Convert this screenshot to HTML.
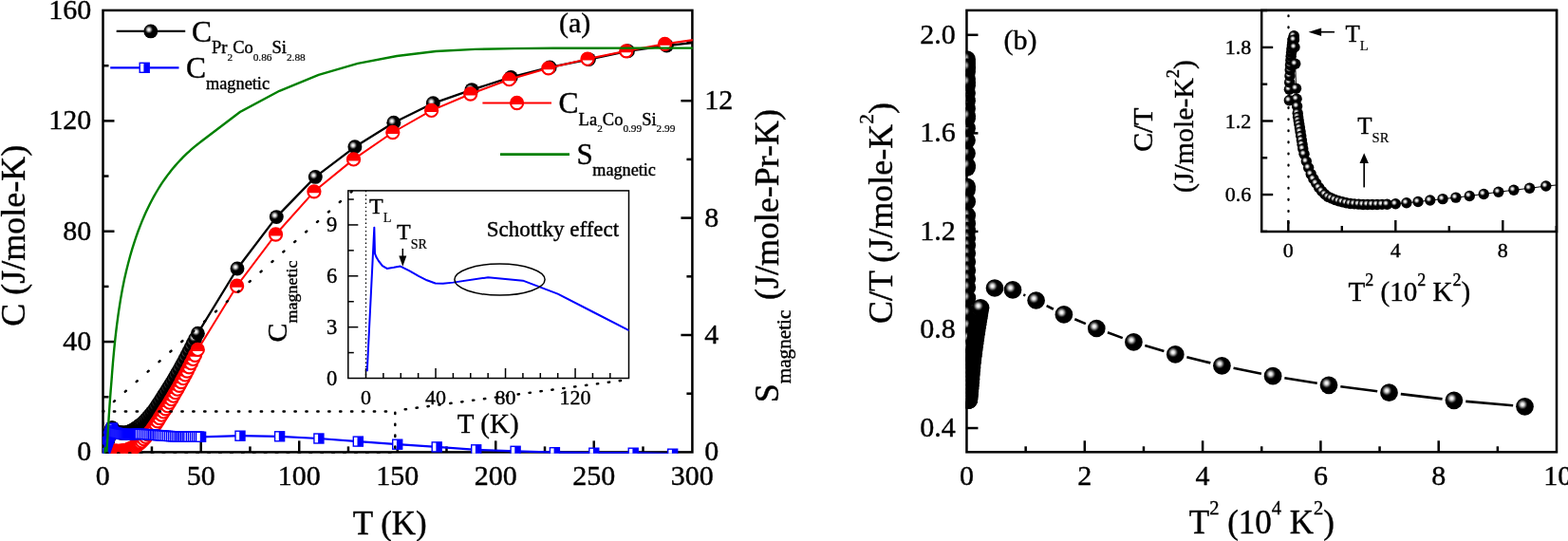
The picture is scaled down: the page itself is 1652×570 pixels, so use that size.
<!DOCTYPE html>
<html><head><meta charset="utf-8"><title>Heat capacity</title>
<style>
html,body{margin:0;padding:0;background:#fff;}
body{width:1652px;height:570px;overflow:hidden;}
svg{display:block;font-family:"Liberation Serif","Times New Roman",serif;}
text{fill:#000;stroke:#000;stroke-width:0.4px;stroke-linejoin:round;}
</style></head><body>
<svg width="1652" height="570" viewBox="0 0 1652 570">
<defs>
<radialGradient id="gb" cx="0.37" cy="0.385" r="0.29" fx="0.37" fy="0.385"><stop offset="0" stop-color="#fff"/><stop offset="0.28" stop-color="#e4e4e4"/><stop offset="0.55" stop-color="#8a8a8a"/><stop offset="0.8" stop-color="#2a2a2a"/><stop offset="1" stop-color="#000"/></radialGradient>
<g id="rm"><circle r="6.6" fill="#fff" stroke="#f00" stroke-width="2.1"/><path d="M-6.6,1.5 L-6.6,0 A6.6,6.6 0 0 1 6.6,0 L6.6,1.5 Z" fill="#f00"/></g>
<g id="bm"><rect x="-5" y="-5" width="10" height="10" fill="#fff" stroke="#00f" stroke-width="1.4"/><rect x="-0.8" y="-5" width="5.8" height="10" fill="#00f"/></g>
<clipPath id="ca"><rect x="108.1" y="10.5" width="621.7" height="467.2"/></clipPath>
<clipPath id="cb"><rect x="1017.5" y="10.5" width="623" height="466.6"/></clipPath>
<clipPath id="cia"><rect x="366.8" y="200.9" width="295.7" height="197.6"/></clipPath>
<clipPath id="cib"><rect x="1329.2" y="11" width="310.8" height="233"/></clipPath>
</defs>
<rect width="1652" height="570" fill="#fff"/>

<rect x="108.5" y="10.9" width="620.9" height="465.5" fill="none" stroke="#000" stroke-width="2.5"/>
<line x1="159.95" y1="476.4" x2="159.95" y2="470.4" stroke="#000" stroke-width="2.5" />
<line x1="211.71" y1="476.4" x2="211.71" y2="464.4" stroke="#000" stroke-width="2.5" />
<line x1="263.46" y1="476.4" x2="263.46" y2="470.4" stroke="#000" stroke-width="2.5" />
<line x1="315.22" y1="476.4" x2="315.22" y2="464.4" stroke="#000" stroke-width="2.5" />
<line x1="366.97" y1="476.4" x2="366.97" y2="470.4" stroke="#000" stroke-width="2.5" />
<line x1="418.73" y1="476.4" x2="418.73" y2="464.4" stroke="#000" stroke-width="2.5" />
<line x1="470.48" y1="476.4" x2="470.48" y2="470.4" stroke="#000" stroke-width="2.5" />
<line x1="522.24" y1="476.4" x2="522.24" y2="464.4" stroke="#000" stroke-width="2.5" />
<line x1="574" y1="476.4" x2="574" y2="470.4" stroke="#000" stroke-width="2.5" />
<line x1="625.75" y1="476.4" x2="625.75" y2="464.4" stroke="#000" stroke-width="2.5" />
<line x1="677.5" y1="476.4" x2="677.5" y2="470.4" stroke="#000" stroke-width="2.5" />
<text transform="translate(108.2,511.2) scale(1,1.0)" font-size="30" text-anchor="middle" >0</text>
<text transform="translate(211.71,511.2) scale(1,1.0)" font-size="30" text-anchor="middle" >50</text>
<text transform="translate(315.22,511.2) scale(1,1.0)" font-size="30" text-anchor="middle" >100</text>
<text transform="translate(418.73,511.2) scale(1,1.0)" font-size="30" text-anchor="middle" >150</text>
<text transform="translate(522.24,511.2) scale(1,1.0)" font-size="30" text-anchor="middle" >200</text>
<text transform="translate(625.75,511.2) scale(1,1.0)" font-size="30" text-anchor="middle" >250</text>
<text transform="translate(729.26,511.2) scale(1,1.0)" font-size="30" text-anchor="middle" >300</text>
<line x1="108.5" y1="418.23" x2="114.5" y2="418.23" stroke="#000" stroke-width="2.5" />
<line x1="108.5" y1="360.06" x2="120.5" y2="360.06" stroke="#000" stroke-width="2.5" />
<line x1="108.5" y1="301.89" x2="114.5" y2="301.89" stroke="#000" stroke-width="2.5" />
<line x1="108.5" y1="243.72" x2="120.5" y2="243.72" stroke="#000" stroke-width="2.5" />
<line x1="108.5" y1="185.55" x2="114.5" y2="185.55" stroke="#000" stroke-width="2.5" />
<line x1="108.5" y1="127.38" x2="120.5" y2="127.38" stroke="#000" stroke-width="2.5" />
<line x1="108.5" y1="69.21" x2="114.5" y2="69.21" stroke="#000" stroke-width="2.5" />
<text transform="translate(96.3,485.3) scale(1,1.0)" font-size="30" text-anchor="end" >0</text>
<text transform="translate(96.3,368.96) scale(1,1.0)" font-size="30" text-anchor="end" >40</text>
<text transform="translate(96.3,252.62) scale(1,1.0)" font-size="30" text-anchor="end" >80</text>
<text transform="translate(96.3,136.28) scale(1,1.0)" font-size="30" text-anchor="end" >120</text>
<text transform="translate(96.3,19.94) scale(1,1.0)" font-size="30" text-anchor="end" >160</text>
<line x1="729.4" y1="414.7" x2="723.4" y2="414.7" stroke="#000" stroke-width="2.5" />
<line x1="729.4" y1="353" x2="717.4" y2="353" stroke="#000" stroke-width="2.5" />
<line x1="729.4" y1="291.3" x2="723.4" y2="291.3" stroke="#000" stroke-width="2.5" />
<line x1="729.4" y1="229.6" x2="717.4" y2="229.6" stroke="#000" stroke-width="2.5" />
<line x1="729.4" y1="167.9" x2="723.4" y2="167.9" stroke="#000" stroke-width="2.5" />
<line x1="729.4" y1="106.2" x2="717.4" y2="106.2" stroke="#000" stroke-width="2.5" />
<line x1="729.4" y1="44.5" x2="723.4" y2="44.5" stroke="#000" stroke-width="2.5" />
<text transform="translate(742.3,485.3) scale(1,1.0)" font-size="30" text-anchor="start" >0</text>
<text transform="translate(742.3,361.9) scale(1,1.0)" font-size="30" text-anchor="start" >4</text>
<text transform="translate(742.3,238.5) scale(1,1.0)" font-size="30" text-anchor="start" >8</text>
<text transform="translate(742.3,115.1) scale(1,1.0)" font-size="30" text-anchor="start" >12</text>
<text transform="translate(410.7,562.5) scale(1,1.0)" font-size="35" text-anchor="middle" >T (K)</text>
<text transform="translate(26.3,248.3) scale(1,1.03) rotate(-90)" font-size="34.95" text-anchor="middle">C (J/mole-K)</text>
<text transform="translate(820.1,424.3) scale(1,1.03) rotate(-90)" font-size="34.95">S<tspan font-size="20.58" dy="13.2">magnetic</tspan><tspan dy="-13.2" dx="1.5"> (J/mole-Pr-K)</tspan></text>
<text transform="translate(605.6,34.4) scale(1,1.0)" font-size="30" text-anchor="middle" >(a)</text>
<g clip-path="url(#ca)">
<polyline fill="none" stroke="#000" stroke-width="2.3" stroke-linejoin="round" points="112.13,468.83 112.34,467.91 112.75,466.69 113.17,465.43 113.58,464.15 114,462.88 114.41,461.57 114.82,460.28 115.24,458.96 115.65,457.62 116.07,456.26 116.48,454.88 116.89,453.6 117.31,452.3 117.72,450.98 117.83,451.14 118.28,450.8 118.8,451.53 119.36,453.39 119.75,453.97 120.08,454.33 120.46,454.62 120.7,454.74 121.06,454.67 121.41,454.63 121.76,454.62 122.11,454.67 122.46,454.82 122.82,455 123.17,455.22 123.52,455.47 124.14,455.61 125.18,455.7 126.21,455.74 127.25,455.95 128.28,455.97 129.32,455.97 130.35,456.07 131.39,456.09 132.42,456.05 133.46,455.93 134.49,455.53 135.53,455.16 136.56,454.77 137.6,454.29 138.63,453.84 139.67,453.35 140.7,452.7 141.74,452.07 142.77,451.43 143.81,450.69 144.84,449.94 145.88,449.19 146.91,448.39 147.95,447.58 149.6,446.21 151.67,444.19 153.74,442.06 155.81,439.71 157.88,437.35 159.95,434.87 162.03,432.21 164.1,429.28 166.17,426.14 168.24,423.03 170.31,419.88 172.38,416.39 174.45,413.25 176.52,410.05 178.59,406.76 180.66,403.41 182.73,399.97 184.8,396.47 186.87,392.89 188.94,389.23 191.01,385.5 193.08,381.69 195.15,377.81 197.22,373.85 199.29,369.82 201.36,365.72 203.43,361.54 205.5,357.28 208.4,351.2 250,283 291.3,228.6 332.3,186.4 373.9,154.8 414.8,129.3 456.3,108.8 497,94.6 538.3,81.4 579.2,70.9 620.4,62.6 661.5,53.8 702.4,48 743.5,43.6" />
<circle cx="112.13" cy="468.83" r="7.45" fill="url(#gb)"/>
<circle cx="112.34" cy="467.91" r="7.45" fill="url(#gb)"/>
<circle cx="112.75" cy="466.69" r="7.45" fill="url(#gb)"/>
<circle cx="113.17" cy="465.43" r="7.45" fill="url(#gb)"/>
<circle cx="113.58" cy="464.15" r="7.45" fill="url(#gb)"/>
<circle cx="114" cy="462.88" r="7.45" fill="url(#gb)"/>
<circle cx="114.41" cy="461.57" r="7.45" fill="url(#gb)"/>
<circle cx="114.82" cy="460.28" r="7.45" fill="url(#gb)"/>
<circle cx="115.24" cy="458.96" r="7.45" fill="url(#gb)"/>
<circle cx="115.65" cy="457.62" r="7.45" fill="url(#gb)"/>
<circle cx="116.07" cy="456.26" r="7.45" fill="url(#gb)"/>
<circle cx="116.48" cy="454.88" r="7.45" fill="url(#gb)"/>
<circle cx="116.89" cy="453.6" r="7.45" fill="url(#gb)"/>
<circle cx="117.31" cy="452.3" r="7.45" fill="url(#gb)"/>
<circle cx="117.72" cy="450.98" r="7.45" fill="url(#gb)"/>
<circle cx="117.83" cy="451.14" r="7.45" fill="url(#gb)"/>
<circle cx="118.28" cy="450.8" r="7.45" fill="url(#gb)"/>
<circle cx="118.8" cy="451.53" r="7.45" fill="url(#gb)"/>
<circle cx="119.36" cy="453.39" r="7.45" fill="url(#gb)"/>
<circle cx="119.75" cy="453.97" r="7.45" fill="url(#gb)"/>
<circle cx="120.08" cy="454.33" r="7.45" fill="url(#gb)"/>
<circle cx="120.46" cy="454.62" r="7.45" fill="url(#gb)"/>
<circle cx="120.7" cy="454.74" r="7.45" fill="url(#gb)"/>
<circle cx="121.06" cy="454.67" r="7.45" fill="url(#gb)"/>
<circle cx="121.41" cy="454.63" r="7.45" fill="url(#gb)"/>
<circle cx="121.76" cy="454.62" r="7.45" fill="url(#gb)"/>
<circle cx="122.11" cy="454.67" r="7.45" fill="url(#gb)"/>
<circle cx="122.46" cy="454.82" r="7.45" fill="url(#gb)"/>
<circle cx="122.82" cy="455" r="7.45" fill="url(#gb)"/>
<circle cx="123.17" cy="455.22" r="7.45" fill="url(#gb)"/>
<circle cx="123.52" cy="455.47" r="7.45" fill="url(#gb)"/>
<circle cx="124.14" cy="455.61" r="7.45" fill="url(#gb)"/>
<circle cx="125.18" cy="455.7" r="7.45" fill="url(#gb)"/>
<circle cx="126.21" cy="455.74" r="7.45" fill="url(#gb)"/>
<circle cx="127.25" cy="455.95" r="7.45" fill="url(#gb)"/>
<circle cx="128.28" cy="455.97" r="7.45" fill="url(#gb)"/>
<circle cx="129.32" cy="455.97" r="7.45" fill="url(#gb)"/>
<circle cx="130.35" cy="456.07" r="7.45" fill="url(#gb)"/>
<circle cx="131.39" cy="456.09" r="7.45" fill="url(#gb)"/>
<circle cx="132.42" cy="456.05" r="7.45" fill="url(#gb)"/>
<circle cx="133.46" cy="455.93" r="7.45" fill="url(#gb)"/>
<circle cx="134.49" cy="455.53" r="7.45" fill="url(#gb)"/>
<circle cx="135.53" cy="455.16" r="7.45" fill="url(#gb)"/>
<circle cx="136.56" cy="454.77" r="7.45" fill="url(#gb)"/>
<circle cx="137.6" cy="454.29" r="7.45" fill="url(#gb)"/>
<circle cx="138.63" cy="453.84" r="7.45" fill="url(#gb)"/>
<circle cx="139.67" cy="453.35" r="7.45" fill="url(#gb)"/>
<circle cx="140.7" cy="452.7" r="7.45" fill="url(#gb)"/>
<circle cx="141.74" cy="452.07" r="7.45" fill="url(#gb)"/>
<circle cx="142.77" cy="451.43" r="7.45" fill="url(#gb)"/>
<circle cx="143.81" cy="450.69" r="7.45" fill="url(#gb)"/>
<circle cx="144.84" cy="449.94" r="7.45" fill="url(#gb)"/>
<circle cx="145.88" cy="449.19" r="7.45" fill="url(#gb)"/>
<circle cx="146.91" cy="448.39" r="7.45" fill="url(#gb)"/>
<circle cx="147.95" cy="447.58" r="7.45" fill="url(#gb)"/>
<circle cx="149.6" cy="446.21" r="7.45" fill="url(#gb)"/>
<circle cx="151.67" cy="444.19" r="7.45" fill="url(#gb)"/>
<circle cx="153.74" cy="442.06" r="7.45" fill="url(#gb)"/>
<circle cx="155.81" cy="439.71" r="7.45" fill="url(#gb)"/>
<circle cx="157.88" cy="437.35" r="7.45" fill="url(#gb)"/>
<circle cx="159.95" cy="434.87" r="7.45" fill="url(#gb)"/>
<circle cx="162.03" cy="432.21" r="7.45" fill="url(#gb)"/>
<circle cx="164.1" cy="429.28" r="7.45" fill="url(#gb)"/>
<circle cx="166.17" cy="426.14" r="7.45" fill="url(#gb)"/>
<circle cx="168.24" cy="423.03" r="7.45" fill="url(#gb)"/>
<circle cx="170.31" cy="419.88" r="7.45" fill="url(#gb)"/>
<circle cx="172.38" cy="416.39" r="7.45" fill="url(#gb)"/>
<circle cx="174.45" cy="413.25" r="7.45" fill="url(#gb)"/>
<circle cx="176.52" cy="410.05" r="7.45" fill="url(#gb)"/>
<circle cx="178.59" cy="406.76" r="7.45" fill="url(#gb)"/>
<circle cx="180.66" cy="403.41" r="7.45" fill="url(#gb)"/>
<circle cx="182.73" cy="399.97" r="7.45" fill="url(#gb)"/>
<circle cx="184.8" cy="396.47" r="7.45" fill="url(#gb)"/>
<circle cx="186.87" cy="392.89" r="7.45" fill="url(#gb)"/>
<circle cx="188.94" cy="389.23" r="7.45" fill="url(#gb)"/>
<circle cx="191.01" cy="385.5" r="7.45" fill="url(#gb)"/>
<circle cx="193.08" cy="381.69" r="7.45" fill="url(#gb)"/>
<circle cx="195.15" cy="377.81" r="7.45" fill="url(#gb)"/>
<circle cx="197.22" cy="373.85" r="7.45" fill="url(#gb)"/>
<circle cx="199.29" cy="369.82" r="7.45" fill="url(#gb)"/>
<circle cx="201.36" cy="365.72" r="7.45" fill="url(#gb)"/>
<circle cx="203.43" cy="361.54" r="7.45" fill="url(#gb)"/>
<circle cx="205.5" cy="357.28" r="7.45" fill="url(#gb)"/>
<circle cx="208.4" cy="351.2" r="7.45" fill="url(#gb)"/>
<circle cx="250" cy="283" r="7.45" fill="url(#gb)"/>
<circle cx="291.3" cy="228.6" r="7.45" fill="url(#gb)"/>
<circle cx="332.3" cy="186.4" r="7.45" fill="url(#gb)"/>
<circle cx="373.9" cy="154.8" r="7.45" fill="url(#gb)"/>
<circle cx="414.8" cy="129.3" r="7.45" fill="url(#gb)"/>
<circle cx="456.3" cy="108.8" r="7.45" fill="url(#gb)"/>
<circle cx="497" cy="94.6" r="7.45" fill="url(#gb)"/>
<circle cx="538.3" cy="81.4" r="7.45" fill="url(#gb)"/>
<circle cx="579.2" cy="70.9" r="7.45" fill="url(#gb)"/>
<circle cx="620.4" cy="62.6" r="7.45" fill="url(#gb)"/>
<circle cx="661.5" cy="53.8" r="7.45" fill="url(#gb)"/>
<circle cx="702.4" cy="48" r="7.45" fill="url(#gb)"/>
<circle cx="743.5" cy="43.6" r="7.45" fill="url(#gb)"/>
<polyline fill="none" stroke="#f00" stroke-width="2.0" stroke-linejoin="round" points="112.13,475.49 112.34,475.49 112.75,475.49 113.17,475.48 113.58,475.48 114,475.48 114.41,475.47 114.82,475.47 115.24,475.47 115.65,475.46 116.07,475.46 116.48,475.45 116.89,475.45 117.31,475.45 117.72,475.44 117.83,475.44 118.28,475.44 118.8,475.43 119.36,475.43 119.75,475.43 120.08,475.42 120.46,475.42 120.7,475.42 121.06,475.41 121.41,475.41 121.76,475.41 122.11,475.41 122.46,475.4 122.82,475.4 123.17,475.4 123.52,475.39 124.14,475.39 125.18,475.36 126.21,475.31 127.25,475.26 128.28,475.21 129.32,475.11 130.35,474.94 131.39,474.78 132.42,474.61 133.46,474.35 134.49,473.95 135.53,473.55 136.56,473.15 137.6,472.72 138.63,472.24 139.67,471.76 140.7,471.28 141.74,470.8 142.77,470.24 143.81,469.48 144.84,468.71 145.88,467.92 146.91,467.09 147.95,466.25 149.6,464.91 151.67,462.66 153.74,460.4 155.81,457.93 157.88,455.46 159.95,452.99 162.03,449.93 164.1,446.88 166.17,443.82 168.24,440.48 170.31,437.14 172.38,433.95 174.45,430.77 176.52,427.59 178.59,424.14 180.66,420.63 182.73,417.12 184.8,413.6 186.87,410.09 188.94,406.29 191.01,402.49 193.08,398.7 195.15,394.9 197.22,391.01 199.29,386.82 201.36,382.64 203.43,378.45 205.5,374.27 208.3,368.4 249.6,301.25 290.5,247 330.9,201.8 372.5,167.9 413.8,139.5 454.6,116.4 495.7,99 536.5,83.7 577.8,71.8 619,62.1 659.8,53.8 700.5,46.3 741.5,40.5" />
<use href="#rm" x="112.13" y="475.49"/>
<use href="#rm" x="112.34" y="475.49"/>
<use href="#rm" x="112.75" y="475.49"/>
<use href="#rm" x="113.17" y="475.48"/>
<use href="#rm" x="113.58" y="475.48"/>
<use href="#rm" x="114" y="475.48"/>
<use href="#rm" x="114.41" y="475.47"/>
<use href="#rm" x="114.82" y="475.47"/>
<use href="#rm" x="115.24" y="475.47"/>
<use href="#rm" x="115.65" y="475.46"/>
<use href="#rm" x="116.07" y="475.46"/>
<use href="#rm" x="116.48" y="475.45"/>
<use href="#rm" x="116.89" y="475.45"/>
<use href="#rm" x="117.31" y="475.45"/>
<use href="#rm" x="117.72" y="475.44"/>
<use href="#rm" x="117.83" y="475.44"/>
<use href="#rm" x="118.28" y="475.44"/>
<use href="#rm" x="118.8" y="475.43"/>
<use href="#rm" x="119.36" y="475.43"/>
<use href="#rm" x="119.75" y="475.43"/>
<use href="#rm" x="120.08" y="475.42"/>
<use href="#rm" x="120.46" y="475.42"/>
<use href="#rm" x="120.7" y="475.42"/>
<use href="#rm" x="121.06" y="475.41"/>
<use href="#rm" x="121.41" y="475.41"/>
<use href="#rm" x="121.76" y="475.41"/>
<use href="#rm" x="122.11" y="475.41"/>
<use href="#rm" x="122.46" y="475.4"/>
<use href="#rm" x="122.82" y="475.4"/>
<use href="#rm" x="123.17" y="475.4"/>
<use href="#rm" x="123.52" y="475.39"/>
<use href="#rm" x="124.14" y="475.39"/>
<use href="#rm" x="125.18" y="475.36"/>
<use href="#rm" x="126.21" y="475.31"/>
<use href="#rm" x="127.25" y="475.26"/>
<use href="#rm" x="128.28" y="475.21"/>
<use href="#rm" x="129.32" y="475.11"/>
<use href="#rm" x="130.35" y="474.94"/>
<use href="#rm" x="131.39" y="474.78"/>
<use href="#rm" x="132.42" y="474.61"/>
<use href="#rm" x="133.46" y="474.35"/>
<use href="#rm" x="134.49" y="473.95"/>
<use href="#rm" x="135.53" y="473.55"/>
<use href="#rm" x="136.56" y="473.15"/>
<use href="#rm" x="137.6" y="472.72"/>
<use href="#rm" x="138.63" y="472.24"/>
<use href="#rm" x="139.67" y="471.76"/>
<use href="#rm" x="140.7" y="471.28"/>
<use href="#rm" x="141.74" y="470.8"/>
<use href="#rm" x="142.77" y="470.24"/>
<use href="#rm" x="143.81" y="469.48"/>
<use href="#rm" x="144.84" y="468.71"/>
<use href="#rm" x="145.88" y="467.92"/>
<use href="#rm" x="146.91" y="467.09"/>
<use href="#rm" x="147.95" y="466.25"/>
<use href="#rm" x="149.6" y="464.91"/>
<use href="#rm" x="151.67" y="462.66"/>
<use href="#rm" x="153.74" y="460.4"/>
<use href="#rm" x="155.81" y="457.93"/>
<use href="#rm" x="157.88" y="455.46"/>
<use href="#rm" x="159.95" y="452.99"/>
<use href="#rm" x="162.03" y="449.93"/>
<use href="#rm" x="164.1" y="446.88"/>
<use href="#rm" x="166.17" y="443.82"/>
<use href="#rm" x="168.24" y="440.48"/>
<use href="#rm" x="170.31" y="437.14"/>
<use href="#rm" x="172.38" y="433.95"/>
<use href="#rm" x="174.45" y="430.77"/>
<use href="#rm" x="176.52" y="427.59"/>
<use href="#rm" x="178.59" y="424.14"/>
<use href="#rm" x="180.66" y="420.63"/>
<use href="#rm" x="182.73" y="417.12"/>
<use href="#rm" x="184.8" y="413.6"/>
<use href="#rm" x="186.87" y="410.09"/>
<use href="#rm" x="188.94" y="406.29"/>
<use href="#rm" x="191.01" y="402.49"/>
<use href="#rm" x="193.08" y="398.7"/>
<use href="#rm" x="195.15" y="394.9"/>
<use href="#rm" x="197.22" y="391.01"/>
<use href="#rm" x="199.29" y="386.82"/>
<use href="#rm" x="201.36" y="382.64"/>
<use href="#rm" x="203.43" y="378.45"/>
<use href="#rm" x="205.5" y="374.27"/>
<use href="#rm" x="208.3" y="368.4"/>
<use href="#rm" x="249.6" y="301.25"/>
<use href="#rm" x="290.5" y="247"/>
<use href="#rm" x="330.9" y="201.8"/>
<use href="#rm" x="372.5" y="167.9"/>
<use href="#rm" x="413.8" y="139.5"/>
<use href="#rm" x="454.6" y="116.4"/>
<use href="#rm" x="495.7" y="99"/>
<use href="#rm" x="536.5" y="83.7"/>
<use href="#rm" x="577.8" y="71.8"/>
<use href="#rm" x="619" y="62.1"/>
<use href="#rm" x="659.8" y="53.8"/>
<use href="#rm" x="700.5" y="46.3"/>
<use href="#rm" x="741.5" y="40.5"/>
<polyline fill="none" stroke="#00f" stroke-width="2.2" stroke-linejoin="round" points="109.65,475.24 109.96,474.34 110.27,473.44 110.58,472.54 110.89,471.64 111.2,470.74 111.51,469.84 111.82,468.94 112.13,468.04 112.44,467.14 112.75,466.25 113.06,465.35 113.38,464.45 113.69,463.55 114,462.65 114.31,461.75 114.62,460.85 114.93,459.95 115.24,459.05 115.55,458.15 115.86,457.25 116.17,456.35 116.48,455.46 116.79,454.56 117.1,453.66 117.41,452.76 117.72,451.86 118.03,450.96 118.34,451.86 118.65,453.67 118.97,455.13 119.28,455.25 119.59,455.36 119.79,455.44 120.83,455.8 121.86,456.04 122.9,456.29 123.93,456.5 124.97,456.69 126,456.87 127.04,457.06 128.07,457.22 129.11,457.31 130.14,457.4 131.18,457.5 132.21,457.59 133.25,457.67 134.28,457.64 135.32,457.62 136.35,457.6 137.39,457.58 138.42,457.56 139.46,457.53 140.5,457.51 141.53,457.49 142.57,457.46 143.6,457.44 144.64,457.41 145.67,457.38 146.71,457.36 147.53,457.33 149.6,457.32 151.67,457.47 153.74,457.62 155.81,457.77 157.88,457.93 159.95,458.08 161.61,458.21 163.27,458.34 164.92,458.48 166.58,458.61 168.24,458.75 170.31,458.92 172.38,459.07 174.45,459.22 176.52,459.37 178.59,459.52 180.66,459.68 182.73,459.79 184.8,459.89 186.87,460 188.94,460.11 190.59,460.2 192.25,460.2 193.91,460.21 195.56,460.22 197.22,460.22 198.87,460.23 201.36,460.2 203.43,460.17 205.5,460.14 207.57,460.11 209.64,460.08 211.6,460.3 253,459.2 294.6,459.8 335.9,462 377.3,465.1 418.7,468.2 460.2,470.9 501.7,473.8 543.1,475.3 584.4,476.7 625.8,477.2 667.2,477.2 708.7,478.2" />
<use href="#bm" x="109.65" y="475.24"/>
<use href="#bm" x="109.96" y="474.34"/>
<use href="#bm" x="110.27" y="473.44"/>
<use href="#bm" x="110.58" y="472.54"/>
<use href="#bm" x="110.89" y="471.64"/>
<use href="#bm" x="111.2" y="470.74"/>
<use href="#bm" x="111.51" y="469.84"/>
<use href="#bm" x="111.82" y="468.94"/>
<use href="#bm" x="112.13" y="468.04"/>
<use href="#bm" x="112.44" y="467.14"/>
<use href="#bm" x="112.75" y="466.25"/>
<use href="#bm" x="113.06" y="465.35"/>
<use href="#bm" x="113.38" y="464.45"/>
<use href="#bm" x="113.69" y="463.55"/>
<use href="#bm" x="114" y="462.65"/>
<use href="#bm" x="114.31" y="461.75"/>
<use href="#bm" x="114.62" y="460.85"/>
<use href="#bm" x="114.93" y="459.95"/>
<use href="#bm" x="115.24" y="459.05"/>
<use href="#bm" x="115.55" y="458.15"/>
<use href="#bm" x="115.86" y="457.25"/>
<use href="#bm" x="116.17" y="456.35"/>
<use href="#bm" x="116.48" y="455.46"/>
<use href="#bm" x="116.79" y="454.56"/>
<use href="#bm" x="117.1" y="453.66"/>
<use href="#bm" x="117.41" y="452.76"/>
<use href="#bm" x="117.72" y="451.86"/>
<use href="#bm" x="118.03" y="450.96"/>
<use href="#bm" x="118.34" y="451.86"/>
<use href="#bm" x="118.65" y="453.67"/>
<use href="#bm" x="118.97" y="455.13"/>
<use href="#bm" x="119.28" y="455.25"/>
<use href="#bm" x="119.59" y="455.36"/>
<use href="#bm" x="119.79" y="455.44"/>
<use href="#bm" x="120.83" y="455.8"/>
<use href="#bm" x="121.86" y="456.04"/>
<use href="#bm" x="122.9" y="456.29"/>
<use href="#bm" x="123.93" y="456.5"/>
<use href="#bm" x="124.97" y="456.69"/>
<use href="#bm" x="126" y="456.87"/>
<use href="#bm" x="127.04" y="457.06"/>
<use href="#bm" x="128.07" y="457.22"/>
<use href="#bm" x="129.11" y="457.31"/>
<use href="#bm" x="130.14" y="457.4"/>
<use href="#bm" x="131.18" y="457.5"/>
<use href="#bm" x="132.21" y="457.59"/>
<use href="#bm" x="133.25" y="457.67"/>
<use href="#bm" x="134.28" y="457.64"/>
<use href="#bm" x="135.32" y="457.62"/>
<use href="#bm" x="136.35" y="457.6"/>
<use href="#bm" x="137.39" y="457.58"/>
<use href="#bm" x="138.42" y="457.56"/>
<use href="#bm" x="139.46" y="457.53"/>
<use href="#bm" x="140.5" y="457.51"/>
<use href="#bm" x="141.53" y="457.49"/>
<use href="#bm" x="142.57" y="457.46"/>
<use href="#bm" x="143.6" y="457.44"/>
<use href="#bm" x="144.64" y="457.41"/>
<use href="#bm" x="145.67" y="457.38"/>
<use href="#bm" x="146.71" y="457.36"/>
<use href="#bm" x="147.53" y="457.33"/>
<use href="#bm" x="149.6" y="457.32"/>
<use href="#bm" x="151.67" y="457.47"/>
<use href="#bm" x="153.74" y="457.62"/>
<use href="#bm" x="155.81" y="457.77"/>
<use href="#bm" x="157.88" y="457.93"/>
<use href="#bm" x="159.95" y="458.08"/>
<use href="#bm" x="161.61" y="458.21"/>
<use href="#bm" x="163.27" y="458.34"/>
<use href="#bm" x="164.92" y="458.48"/>
<use href="#bm" x="166.58" y="458.61"/>
<use href="#bm" x="168.24" y="458.75"/>
<use href="#bm" x="170.31" y="458.92"/>
<use href="#bm" x="172.38" y="459.07"/>
<use href="#bm" x="174.45" y="459.22"/>
<use href="#bm" x="176.52" y="459.37"/>
<use href="#bm" x="178.59" y="459.52"/>
<use href="#bm" x="180.66" y="459.68"/>
<use href="#bm" x="182.73" y="459.79"/>
<use href="#bm" x="184.8" y="459.89"/>
<use href="#bm" x="186.87" y="460"/>
<use href="#bm" x="188.94" y="460.11"/>
<use href="#bm" x="190.59" y="460.2"/>
<use href="#bm" x="192.25" y="460.2"/>
<use href="#bm" x="193.91" y="460.21"/>
<use href="#bm" x="195.56" y="460.22"/>
<use href="#bm" x="197.22" y="460.22"/>
<use href="#bm" x="198.87" y="460.23"/>
<use href="#bm" x="201.36" y="460.2"/>
<use href="#bm" x="203.43" y="460.17"/>
<use href="#bm" x="205.5" y="460.14"/>
<use href="#bm" x="207.57" y="460.11"/>
<use href="#bm" x="209.64" y="460.08"/>
<use href="#bm" x="211.6" y="460.3"/>
<use href="#bm" x="253" y="459.2"/>
<use href="#bm" x="294.6" y="459.8"/>
<use href="#bm" x="335.9" y="462"/>
<use href="#bm" x="377.3" y="465.1"/>
<use href="#bm" x="418.7" y="468.2"/>
<use href="#bm" x="460.2" y="470.9"/>
<use href="#bm" x="501.7" y="473.8"/>
<use href="#bm" x="543.1" y="475.3"/>
<use href="#bm" x="584.4" y="476.7"/>
<use href="#bm" x="625.8" y="477.2"/>
<use href="#bm" x="667.2" y="477.2"/>
<use href="#bm" x="708.7" y="478.2"/>
<polyline fill="none" stroke="#008000" stroke-width="2.4" stroke-linejoin="round" points="110.4,477.5 110.95,472.21 111.47,482.4 111.98,480.54 112.5,474.26 113.02,466.32 113.54,457.88 114.05,449.41 114.57,441.17 115.09,433.24 115.61,425.67 116.12,418.46 116.64,411.6 117.16,405.08 117.66,398.87 118.1,392.95 118.55,387.31 118.99,381.92 119.45,376.76 119.9,371.82 120.35,367.09 120.81,362.54 121.27,358.17 121.74,353.96 122.2,349.91 122.67,346 123.14,342.22 123.61,338.57 124.08,335.04 124.55,331.62 125.03,328.3 125.12,327.65 127.03,315.4 128.96,304.44 130.97,294.52 133.04,285.48 135.11,277.18 137.18,269.52 139.25,262.41 141.32,255.79 143.39,249.59 145.46,243.77 147.53,238.3 149.6,233.13 151.67,228.24 153.74,223.6 155.81,219.19 157.88,214.99 159.95,210.98 162.03,207.16 164.1,203.5 166.17,200 168.24,196.65 170.31,193.42 172.38,190.38 174.45,187.45 176.52,184.63 178.59,181.92 180.66,179.31 182.73,176.79 184.8,174.36 186.87,172.02 188.94,169.76 191.01,167.57 193.08,165.46 195.15,163.41 197.22,161.44 199.29,159.52 201.36,157.67 203.43,155.88 205.5,154.14 207.57,152.45 209.64,150.82 211.71,149.24 253.2,117.8 294.4,95.8 335.7,78.8 376.9,66.9 418.2,59 459.4,54 500.7,51.9 542,51.1 583,50.8 625,50.7 667,50.6 708.7,50.6 750,50.6" />
<path d="M108.3,433.4 H416.3 V477.4 H108.3 Z" fill="none" stroke="#000" stroke-width="2.5" stroke-dasharray="1.3 10.61" stroke-dashoffset="0.3" stroke-linecap="round"/>
</g>
<line x1="122.7" y1="32.9" x2="195.2" y2="32.9" stroke="#000" stroke-width="2.3" />
<circle cx="158.8" cy="32.9" r="7.45" fill="url(#gb)"/>
<text transform="translate(202,43.6) scale(1,1.0)" font-size="31.5">C<tspan font-size="18.5" dy="12.6">Pr</tspan><tspan font-size="11.3" stroke-width="0.2" dy="7.4">2</tspan><tspan font-size="18.5" dy="-7.4">Co</tspan><tspan font-size="11.3" stroke-width="0.2" dy="7.4">0.86</tspan><tspan font-size="18.5" dy="-7.4">Si</tspan><tspan font-size="11.3" stroke-width="0.2" dy="7.4">2.88</tspan></text>
<line x1="116.2" y1="71.3" x2="188.5" y2="71.3" stroke="#00f" stroke-width="2.2" />
<use href="#bm" x="152.2" y="71.3"/>
<text transform="translate(196,81.8) scale(1,1.0)" font-size="31.5">C<tspan font-size="18.3" dy="12.2">magnetic</tspan></text>
<line x1="508.4" y1="108.5" x2="581" y2="108.5" stroke="#f00" stroke-width="2.0" />
<use href="#rm" x="544.6" y="108.5"/>
<text transform="translate(588.6,119.4) scale(1,1.0)" font-size="31.5">C<tspan font-size="18.5" dy="12.6">La</tspan><tspan font-size="11.3" stroke-width="0.2" dy="7.4">2</tspan><tspan font-size="18.5" dy="-7.4">Co</tspan><tspan font-size="11.3" stroke-width="0.2" dy="7.4">0.99</tspan><tspan font-size="18.5" dy="-7.4">Si</tspan><tspan font-size="11.3" stroke-width="0.2" dy="7.4">2.99</tspan></text>
<line x1="527" y1="162.6" x2="600" y2="162.6" stroke="#008000" stroke-width="2.8" />
<text transform="translate(607.6,172.7) scale(1,1.0)" font-size="31">S<tspan font-size="18.2" dy="12.6" dx="-0.6">magnetic</tspan></text>
<rect x="366.8" y="200.9" width="295.7" height="197.6" fill="#fff" stroke="#000" stroke-width="1.5"/>
<line x1="385.5" y1="398.5" x2="385.5" y2="388" stroke="#000" stroke-width="1.5" />
<line x1="403.88" y1="398.5" x2="403.88" y2="393" stroke="#000" stroke-width="1.5" />
<line x1="422.26" y1="398.5" x2="422.26" y2="393" stroke="#000" stroke-width="1.5" />
<line x1="440.64" y1="398.5" x2="440.64" y2="393" stroke="#000" stroke-width="1.5" />
<line x1="459.02" y1="398.5" x2="459.02" y2="388" stroke="#000" stroke-width="1.5" />
<line x1="477.4" y1="398.5" x2="477.4" y2="393" stroke="#000" stroke-width="1.5" />
<line x1="495.78" y1="398.5" x2="495.78" y2="393" stroke="#000" stroke-width="1.5" />
<line x1="514.16" y1="398.5" x2="514.16" y2="393" stroke="#000" stroke-width="1.5" />
<line x1="532.54" y1="398.5" x2="532.54" y2="388" stroke="#000" stroke-width="1.5" />
<line x1="550.92" y1="398.5" x2="550.92" y2="393" stroke="#000" stroke-width="1.5" />
<line x1="569.3" y1="398.5" x2="569.3" y2="393" stroke="#000" stroke-width="1.5" />
<line x1="587.68" y1="398.5" x2="587.68" y2="393" stroke="#000" stroke-width="1.5" />
<line x1="606.06" y1="398.5" x2="606.06" y2="388" stroke="#000" stroke-width="1.5" />
<line x1="624.44" y1="398.5" x2="624.44" y2="393" stroke="#000" stroke-width="1.5" />
<line x1="642.82" y1="398.5" x2="642.82" y2="393" stroke="#000" stroke-width="1.5" />
<text transform="translate(385.5,426) scale(1,1.0)" font-size="22" text-anchor="middle" >0</text>
<text transform="translate(459.02,426) scale(1,1.0)" font-size="22" text-anchor="middle" >40</text>
<text transform="translate(532.54,426) scale(1,1.0)" font-size="22" text-anchor="middle" >80</text>
<text transform="translate(606.06,426) scale(1,1.0)" font-size="22" text-anchor="middle" >120</text>
<line x1="366.8" y1="371.57" x2="372.8" y2="371.57" stroke="#000" stroke-width="1.5" />
<line x1="366.8" y1="344.65" x2="377.3" y2="344.65" stroke="#000" stroke-width="1.5" />
<line x1="366.8" y1="317.73" x2="372.8" y2="317.73" stroke="#000" stroke-width="1.5" />
<line x1="366.8" y1="290.8" x2="377.3" y2="290.8" stroke="#000" stroke-width="1.5" />
<line x1="366.8" y1="263.88" x2="372.8" y2="263.88" stroke="#000" stroke-width="1.5" />
<line x1="366.8" y1="236.95" x2="377.3" y2="236.95" stroke="#000" stroke-width="1.5" />
<line x1="366.8" y1="210.03" x2="372.8" y2="210.03" stroke="#000" stroke-width="1.5" />
<text transform="translate(355.2,405.8) scale(1,1.0)" font-size="22.5" text-anchor="end" >0</text>
<text transform="translate(355.2,351.95) scale(1,1.0)" font-size="22.5" text-anchor="end" >3</text>
<text transform="translate(355.2,298.1) scale(1,1.0)" font-size="22.5" text-anchor="end" >6</text>
<text transform="translate(355.2,244.25) scale(1,1.0)" font-size="22.5" text-anchor="end" >9</text>
<line x1="385.5" y1="200.9" x2="385.5" y2="398.5" stroke="#000" stroke-width="1.3" stroke-dasharray="1.4 2.8"/>
<g clip-path="url(#cia)">
<polyline fill="none" stroke="#00f" stroke-width="2" stroke-linejoin="round" points="386.79,391.32 394.32,239.64 395,267.11 396.53,271.06 398.92,275 402.96,280.03 407.65,282.9 414.91,281.82 421.89,280.57 431.45,285.42 441.01,290.8 449.83,295.29 458.65,298.52 466.74,298.7 477.4,297.62 514.16,292.24 550.92,295.65 587.68,309.65 624.44,328.5 661.2,347.34 697.96,364.57" />
</g>
<ellipse cx="526.5" cy="294.6" rx="47.6" ry="16.5" fill="none" stroke="#000" stroke-width="1.5"/>
<text transform="translate(512.7,249) scale(1,1.0)" font-size="23" text-anchor="start" >Schottky effect</text>
<text transform="translate(389.1,225) scale(1,1.0)" font-size="24">T<tspan font-size="14.3" stroke-width="0.2" dy="9">L</tspan></text>
<text transform="translate(418,252.4) scale(1,1.0)" font-size="24">T<tspan font-size="14" stroke-width="0.2" dy="9.5">SR</tspan></text>
<line x1="424.3" y1="261.9" x2="424.3" y2="272" stroke="#000" stroke-width="1.5" />
<path d="M420.3,269.5 L428.3,269.5 L424.3,280.8 Z" fill="#000"/>
<text transform="translate(514.2,456.3) scale(1,1.0)" font-size="29" text-anchor="middle" >T (K)</text>
<text transform="translate(302,360.5) scale(1,1.03) rotate(-90)" font-size="29.13">C<tspan font-size="17.48" dy="11.4">magnetic</tspan></text>
<line x1="416.3" y1="432.7" x2="662.5" y2="399.9" stroke="#000" stroke-width="2.5" stroke-dasharray="1.3 10.7" stroke-dashoffset="-10.5" stroke-linecap="round"/>
<line x1="108.3" y1="433.4" x2="370.6" y2="201.7" stroke="#000" stroke-width="2.5" stroke-dasharray="1.3 14.57" stroke-dashoffset="0.3" stroke-linecap="round"/>
<rect x="1018.45" y="10.9" width="621.55" height="465.4" fill="none" stroke="#000" stroke-width="2.5"/>
<line x1="1080.65" y1="476.3" x2="1080.65" y2="470.3" stroke="#000" stroke-width="2.5" />
<line x1="1142.8" y1="476.3" x2="1142.8" y2="464.3" stroke="#000" stroke-width="2.5" />
<line x1="1204.95" y1="476.3" x2="1204.95" y2="470.3" stroke="#000" stroke-width="2.5" />
<line x1="1267.1" y1="476.3" x2="1267.1" y2="464.3" stroke="#000" stroke-width="2.5" />
<line x1="1329.25" y1="476.3" x2="1329.25" y2="470.3" stroke="#000" stroke-width="2.5" />
<line x1="1391.4" y1="476.3" x2="1391.4" y2="464.3" stroke="#000" stroke-width="2.5" />
<line x1="1453.55" y1="476.3" x2="1453.55" y2="470.3" stroke="#000" stroke-width="2.5" />
<line x1="1515.7" y1="476.3" x2="1515.7" y2="464.3" stroke="#000" stroke-width="2.5" />
<line x1="1577.85" y1="476.3" x2="1577.85" y2="470.3" stroke="#000" stroke-width="2.5" />
<text transform="translate(1018.5,511.3) scale(1,1.0)" font-size="30" text-anchor="middle" >0</text>
<text transform="translate(1142.8,511.3) scale(1,1.0)" font-size="30" text-anchor="middle" >2</text>
<text transform="translate(1267.1,511.3) scale(1,1.0)" font-size="30" text-anchor="middle" >4</text>
<text transform="translate(1391.4,511.3) scale(1,1.0)" font-size="30" text-anchor="middle" >6</text>
<text transform="translate(1515.7,511.3) scale(1,1.0)" font-size="30" text-anchor="middle" >8</text>
<text transform="translate(1641.2,511.3) scale(1,1.0)" font-size="30" text-anchor="middle" >10</text>
<line x1="1018.45" y1="451.04" x2="1030.45" y2="451.04" stroke="#000" stroke-width="2.5" />
<line x1="1018.45" y1="399.26" x2="1024.45" y2="399.26" stroke="#000" stroke-width="2.5" />
<line x1="1018.45" y1="347.48" x2="1030.45" y2="347.48" stroke="#000" stroke-width="2.5" />
<line x1="1018.45" y1="295.7" x2="1024.45" y2="295.7" stroke="#000" stroke-width="2.5" />
<line x1="1018.45" y1="243.92" x2="1030.45" y2="243.92" stroke="#000" stroke-width="2.5" />
<line x1="1018.45" y1="192.14" x2="1024.45" y2="192.14" stroke="#000" stroke-width="2.5" />
<line x1="1018.45" y1="140.36" x2="1030.45" y2="140.36" stroke="#000" stroke-width="2.5" />
<line x1="1018.45" y1="88.58" x2="1024.45" y2="88.58" stroke="#000" stroke-width="2.5" />
<line x1="1018.45" y1="36.8" x2="1030.45" y2="36.8" stroke="#000" stroke-width="2.5" />
<text transform="translate(1006.8,459.94) scale(1,1.0)" font-size="30" text-anchor="end" >0.4</text>
<text transform="translate(1006.8,356.38) scale(1,1.0)" font-size="30" text-anchor="end" >0.8</text>
<text transform="translate(1006.8,252.82) scale(1,1.0)" font-size="30" text-anchor="end" >1.2</text>
<text transform="translate(1006.8,149.26) scale(1,1.0)" font-size="30" text-anchor="end" >1.6</text>
<text transform="translate(1006.8,45.7) scale(1,1.0)" font-size="30" text-anchor="end" >2.0</text>
<text transform="translate(1329.4,561.8) scale(1,1.0)" font-size="35" text-anchor="middle">T<tspan font-size="20.5" dy="-19.6">2</tspan><tspan dy="19.6"> (10</tspan><tspan font-size="20.5" dy="-19.6">4</tspan><tspan dy="19.6"> K</tspan><tspan font-size="20.5" dy="-19.6">2</tspan><tspan dy="19.6">)</tspan></text>
<text transform="translate(939.5,341) scale(1,1.03) rotate(-90)" font-size="34.95">C/T (J/mole-K<tspan font-size="20.68" dy="-19.8">2</tspan><tspan dy="19.8">)</tspan></text>
<text transform="translate(1075,52) scale(1,1.0)" font-size="30" text-anchor="middle" >(b)</text>
<g clip-path="url(#cb)">
<line x1="1018.65" y1="99.17" x2="1018.66" y2="109.84" stroke="#000" stroke-width="2.6" />
<line x1="1018.67" y1="134.64" x2="1018.68" y2="162.13" stroke="#000" stroke-width="2.6" />
<line x1="1078.3" y1="310.5" x2="1080.3" y2="311.4" stroke="#000" stroke-width="2.6" />
<line x1="1102.65" y1="322.12" x2="1109.85" y2="325.78" stroke="#000" stroke-width="2.6" />
<line x1="1132.31" y1="336.24" x2="1143.89" y2="341.16" stroke="#000" stroke-width="2.6" />
<line x1="1166.94" y1="350.29" x2="1182.76" y2="356.11" stroke="#000" stroke-width="2.6" />
<line x1="1206.29" y1="363.92" x2="1226.41" y2="369.88" stroke="#000" stroke-width="2.6" />
<line x1="1250.35" y1="376.32" x2="1275.35" y2="382.38" stroke="#000" stroke-width="2.6" />
<line x1="1299.55" y1="387.77" x2="1328.95" y2="393.73" stroke="#000" stroke-width="2.6" />
<line x1="1353.34" y1="398.19" x2="1387.76" y2="403.81" stroke="#000" stroke-width="2.6" />
<line x1="1412.31" y1="407.33" x2="1451.19" y2="412.17" stroke="#000" stroke-width="2.6" />
<line x1="1475.81" y1="415.16" x2="1519.59" y2="420.34" stroke="#000" stroke-width="2.6" />
<line x1="1544.25" y1="422.88" x2="1594.15" y2="427.22" stroke="#000" stroke-width="2.6" />
<circle cx="1018.52" cy="199.91" r="9.35" fill="url(#gb)"/>
<circle cx="1018.52" cy="176.61" r="9.35" fill="url(#gb)"/>
<circle cx="1018.53" cy="161.59" r="9.35" fill="url(#gb)"/>
<circle cx="1018.54" cy="147.78" r="9.35" fill="url(#gb)"/>
<circle cx="1018.54" cy="135.18" r="9.35" fill="url(#gb)"/>
<circle cx="1018.55" cy="124.83" r="9.35" fill="url(#gb)"/>
<circle cx="1018.56" cy="114.47" r="9.35" fill="url(#gb)"/>
<circle cx="1018.56" cy="106.19" r="9.35" fill="url(#gb)"/>
<circle cx="1018.57" cy="97.9" r="9.35" fill="url(#gb)"/>
<circle cx="1018.58" cy="90.13" r="9.35" fill="url(#gb)"/>
<circle cx="1018.59" cy="82.88" r="9.35" fill="url(#gb)"/>
<circle cx="1018.6" cy="75.63" r="9.35" fill="url(#gb)"/>
<circle cx="1018.61" cy="71.32" r="9.35" fill="url(#gb)"/>
<circle cx="1018.62" cy="67" r="9.35" fill="url(#gb)"/>
<circle cx="1018.63" cy="62.69" r="9.35" fill="url(#gb)"/>
<circle cx="1018.63" cy="70.97" r="9.35" fill="url(#gb)"/>
<circle cx="1018.65" cy="86.77" r="9.35" fill="url(#gb)"/>
<circle cx="1018.66" cy="122.24" r="9.35" fill="url(#gb)"/>
<circle cx="1018.68" cy="174.53" r="9.35" fill="url(#gb)"/>
<circle cx="1018.69" cy="196.86" r="9.35" fill="url(#gb)"/>
<circle cx="1018.7" cy="212.41" r="9.35" fill="url(#gb)"/>
<circle cx="1018.72" cy="227.05" r="9.35" fill="url(#gb)"/>
<circle cx="1018.73" cy="235.38" r="9.35" fill="url(#gb)"/>
<circle cx="1018.74" cy="243.12" r="9.35" fill="url(#gb)"/>
<circle cx="1018.75" cy="250.86" r="9.35" fill="url(#gb)"/>
<circle cx="1018.77" cy="258.59" r="9.35" fill="url(#gb)"/>
<circle cx="1018.78" cy="266.78" r="9.35" fill="url(#gb)"/>
<circle cx="1018.8" cy="275.8" r="9.35" fill="url(#gb)"/>
<circle cx="1018.81" cy="284.83" r="9.35" fill="url(#gb)"/>
<circle cx="1018.82" cy="293.85" r="9.35" fill="url(#gb)"/>
<circle cx="1018.84" cy="302.87" r="9.35" fill="url(#gb)"/>
<circle cx="1018.87" cy="314.23" r="9.35" fill="url(#gb)"/>
<circle cx="1018.92" cy="329.87" r="9.35" fill="url(#gb)"/>
<circle cx="1018.97" cy="343.24" r="9.35" fill="url(#gb)"/>
<circle cx="1019.03" cy="356.77" r="9.35" fill="url(#gb)"/>
<circle cx="1019.08" cy="367.15" r="9.35" fill="url(#gb)"/>
<circle cx="1019.15" cy="376.32" r="9.35" fill="url(#gb)"/>
<circle cx="1019.21" cy="385.49" r="9.35" fill="url(#gb)"/>
<circle cx="1019.28" cy="393.15" r="9.35" fill="url(#gb)"/>
<circle cx="1019.35" cy="399.79" r="9.35" fill="url(#gb)"/>
<circle cx="1019.43" cy="405.23" r="9.35" fill="url(#gb)"/>
<circle cx="1019.5" cy="408.31" r="9.35" fill="url(#gb)"/>
<circle cx="1019.58" cy="411.39" r="9.35" fill="url(#gb)"/>
<circle cx="1019.67" cy="414.03" r="9.35" fill="url(#gb)"/>
<circle cx="1019.75" cy="416.01" r="9.35" fill="url(#gb)"/>
<circle cx="1019.84" cy="417.99" r="9.35" fill="url(#gb)"/>
<circle cx="1019.94" cy="419.62" r="9.35" fill="url(#gb)"/>
<circle cx="1020.03" cy="420.25" r="9.35" fill="url(#gb)"/>
<circle cx="1020.13" cy="420.89" r="9.35" fill="url(#gb)"/>
<circle cx="1020.23" cy="421.53" r="9.35" fill="url(#gb)"/>
<circle cx="1020.34" cy="421.53" r="9.35" fill="url(#gb)"/>
<circle cx="1020.45" cy="421.53" r="9.35" fill="url(#gb)"/>
<circle cx="1020.56" cy="421.53" r="9.35" fill="url(#gb)"/>
<circle cx="1020.67" cy="421.27" r="9.35" fill="url(#gb)"/>
<circle cx="1020.79" cy="421.01" r="9.35" fill="url(#gb)"/>
<circle cx="1020.99" cy="420.23" r="9.35" fill="url(#gb)"/>
<circle cx="1021.24" cy="418.08" r="9.35" fill="url(#gb)"/>
<circle cx="1021.51" cy="415.65" r="9.35" fill="url(#gb)"/>
<circle cx="1021.79" cy="412.62" r="9.35" fill="url(#gb)"/>
<circle cx="1022.08" cy="409.77" r="9.35" fill="url(#gb)"/>
<circle cx="1022.38" cy="406.74" r="9.35" fill="url(#gb)"/>
<circle cx="1022.7" cy="403.3" r="9.35" fill="url(#gb)"/>
<circle cx="1023.03" cy="399.26" r="9.35" fill="url(#gb)"/>
<circle cx="1023.37" cy="394.81" r="9.35" fill="url(#gb)"/>
<circle cx="1023.73" cy="390.77" r="9.35" fill="url(#gb)"/>
<circle cx="1024.09" cy="386.91" r="9.35" fill="url(#gb)"/>
<circle cx="1024.47" cy="382.28" r="9.35" fill="url(#gb)"/>
<circle cx="1024.86" cy="378.95" r="9.35" fill="url(#gb)"/>
<circle cx="1025.27" cy="375.62" r="9.35" fill="url(#gb)"/>
<circle cx="1025.68" cy="372.29" r="9.35" fill="url(#gb)"/>
<circle cx="1026.11" cy="368.96" r="9.35" fill="url(#gb)"/>
<circle cx="1026.55" cy="365.63" r="9.35" fill="url(#gb)"/>
<circle cx="1027.01" cy="362.3" r="9.35" fill="url(#gb)"/>
<circle cx="1027.47" cy="358.97" r="9.35" fill="url(#gb)"/>
<circle cx="1027.95" cy="355.64" r="9.35" fill="url(#gb)"/>
<circle cx="1028.44" cy="352.31" r="9.35" fill="url(#gb)"/>
<circle cx="1028.95" cy="348.98" r="9.35" fill="url(#gb)"/>
<circle cx="1029.46" cy="345.65" r="9.35" fill="url(#gb)"/>
<circle cx="1029.99" cy="342.32" r="9.35" fill="url(#gb)"/>
<circle cx="1030.53" cy="338.99" r="9.35" fill="url(#gb)"/>
<circle cx="1031.09" cy="335.66" r="9.35" fill="url(#gb)"/>
<circle cx="1031.65" cy="332.33" r="9.35" fill="url(#gb)"/>
<circle cx="1032.23" cy="329" r="9.35" fill="url(#gb)"/>
<circle cx="1033.06" cy="324.33" r="9.35" fill="url(#gb)"/>
<circle cx="1048" cy="303.5" r="9.35" fill="url(#gb)"/>
<circle cx="1067" cy="305.4" r="9.35" fill="url(#gb)"/>
<circle cx="1091.6" cy="316.5" r="9.35" fill="url(#gb)"/>
<circle cx="1120.9" cy="331.4" r="9.35" fill="url(#gb)"/>
<circle cx="1155.3" cy="346" r="9.35" fill="url(#gb)"/>
<circle cx="1194.4" cy="360.4" r="9.35" fill="url(#gb)"/>
<circle cx="1238.3" cy="373.4" r="9.35" fill="url(#gb)"/>
<circle cx="1287.4" cy="385.3" r="9.35" fill="url(#gb)"/>
<circle cx="1341.1" cy="396.2" r="9.35" fill="url(#gb)"/>
<circle cx="1400" cy="405.8" r="9.35" fill="url(#gb)"/>
<circle cx="1463.5" cy="413.7" r="9.35" fill="url(#gb)"/>
<circle cx="1531.9" cy="421.8" r="9.35" fill="url(#gb)"/>
<circle cx="1606.5" cy="428.3" r="9.35" fill="url(#gb)"/>
</g>
<rect x="1329.2" y="10.9" width="310.8" height="233.1" fill="#fff" stroke="#000" stroke-width="2.5"/>
<line x1="1357.3" y1="244" x2="1357.3" y2="232" stroke="#000" stroke-width="2.4" />
<line x1="1413.8" y1="244" x2="1413.8" y2="238" stroke="#000" stroke-width="2.4" />
<line x1="1470.3" y1="244" x2="1470.3" y2="232" stroke="#000" stroke-width="2.4" />
<line x1="1526.8" y1="244" x2="1526.8" y2="238" stroke="#000" stroke-width="2.4" />
<line x1="1583.3" y1="244" x2="1583.3" y2="232" stroke="#000" stroke-width="2.4" />
<line x1="1639.8" y1="244" x2="1639.8" y2="238" stroke="#000" stroke-width="2.4" />
<text transform="translate(1357.3,271) scale(1,1.0)" font-size="22" text-anchor="middle" >0</text>
<text transform="translate(1470.3,271) scale(1,1.0)" font-size="22" text-anchor="middle" >4</text>
<text transform="translate(1583.3,271) scale(1,1.0)" font-size="22" text-anchor="middle" >8</text>
<line x1="1329.2" y1="243.85" x2="1335.2" y2="243.85" stroke="#000" stroke-width="2.4" />
<line x1="1329.2" y1="205.06" x2="1341.2" y2="205.06" stroke="#000" stroke-width="2.4" />
<line x1="1329.2" y1="166.27" x2="1335.2" y2="166.27" stroke="#000" stroke-width="2.4" />
<line x1="1329.2" y1="127.48" x2="1341.2" y2="127.48" stroke="#000" stroke-width="2.4" />
<line x1="1329.2" y1="88.69" x2="1335.2" y2="88.69" stroke="#000" stroke-width="2.4" />
<line x1="1329.2" y1="49.9" x2="1341.2" y2="49.9" stroke="#000" stroke-width="2.4" />
<line x1="1329.2" y1="11.11" x2="1335.2" y2="11.11" stroke="#000" stroke-width="2.4" />
<text transform="translate(1318.3,212.46) scale(1,1.0)" font-size="22" text-anchor="end" >0.6</text>
<text transform="translate(1318.3,134.88) scale(1,1.0)" font-size="22" text-anchor="end" >1.2</text>
<text transform="translate(1318.3,57.3) scale(1,1.0)" font-size="22" text-anchor="end" >1.8</text>
<line x1="1357.5" y1="16.4" x2="1357.5" y2="244" stroke="#000" stroke-width="2.3" stroke-dasharray="0.8 11.3" stroke-linecap="round"/>
<g clip-path="url(#cib)">
<polyline fill="none" stroke="#000" stroke-width="1.0" stroke-linejoin="round" points="1358.32,105.73 1358.43,94.19 1358.67,86.75 1358.93,79.92 1359.21,73.68 1359.51,68.55 1359.84,63.42 1360.19,59.32 1360.57,55.22 1360.96,51.37 1361.38,47.78 1361.82,44.19 1362.28,42.05 1362.77,39.92 1363.28,37.78 1363.41,41.88 1364,49.7 1364.71,67.27 1365.51,93.16 1366.1,104.22 1366.61,111.92 1367.2,119.17 1367.61,123.29 1368.19,127.12 1368.8,130.95 1369.42,134.78 1370.06,138.84 1370.71,143.31 1371.38,147.78 1372.07,152.24 1372.77,156.71 1374.05,162.34 1376.3,170.08 1378.68,176.7 1381.21,183.4 1383.88,188.54 1386.69,193.08 1389.64,197.62 1392.74,201.41 1395.97,204.7 1399.35,207.39 1402.86,208.92 1406.52,210.45 1410.32,211.75 1414.26,212.73 1418.35,213.71 1422.57,214.52 1426.93,214.84 1431.44,215.15 1436.09,215.47 1440.87,215.47 1445.8,215.47 1450.88,215.47 1456.09,215.34 1461.44,215.21 1470.3,214.82 1481.88,213.76 1494.03,212.56 1506.74,211.06 1520.02,209.64 1533.86,208.14 1548.27,206.44 1563.24,204.44 1578.78,202.23 1594.88,200.24 1611.55,198.32 1628.78,196.03 1646.58,194.38 1664.94,192.73" />
<circle cx="1358.32" cy="105.73" r="5.7" fill="url(#gb)"/>
<circle cx="1358.43" cy="94.19" r="5.7" fill="url(#gb)"/>
<circle cx="1358.67" cy="86.75" r="5.7" fill="url(#gb)"/>
<circle cx="1358.93" cy="79.92" r="5.7" fill="url(#gb)"/>
<circle cx="1359.21" cy="73.68" r="5.7" fill="url(#gb)"/>
<circle cx="1359.51" cy="68.55" r="5.7" fill="url(#gb)"/>
<circle cx="1359.84" cy="63.42" r="5.7" fill="url(#gb)"/>
<circle cx="1360.19" cy="59.32" r="5.7" fill="url(#gb)"/>
<circle cx="1360.57" cy="55.22" r="5.7" fill="url(#gb)"/>
<circle cx="1360.96" cy="51.37" r="5.7" fill="url(#gb)"/>
<circle cx="1361.38" cy="47.78" r="5.7" fill="url(#gb)"/>
<circle cx="1361.82" cy="44.19" r="5.7" fill="url(#gb)"/>
<circle cx="1362.28" cy="42.05" r="5.7" fill="url(#gb)"/>
<circle cx="1362.77" cy="39.92" r="5.7" fill="url(#gb)"/>
<circle cx="1363.28" cy="37.78" r="5.7" fill="url(#gb)"/>
<circle cx="1363.41" cy="41.88" r="5.7" fill="url(#gb)"/>
<circle cx="1364" cy="49.7" r="5.7" fill="url(#gb)"/>
<circle cx="1364.71" cy="67.27" r="5.7" fill="url(#gb)"/>
<circle cx="1365.51" cy="93.16" r="5.7" fill="url(#gb)"/>
<circle cx="1366.1" cy="104.22" r="5.7" fill="url(#gb)"/>
<circle cx="1366.61" cy="111.92" r="5.7" fill="url(#gb)"/>
<circle cx="1367.2" cy="119.17" r="5.7" fill="url(#gb)"/>
<circle cx="1367.61" cy="123.29" r="5.7" fill="url(#gb)"/>
<circle cx="1368.19" cy="127.12" r="5.7" fill="url(#gb)"/>
<circle cx="1368.8" cy="130.95" r="5.7" fill="url(#gb)"/>
<circle cx="1369.42" cy="134.78" r="5.7" fill="url(#gb)"/>
<circle cx="1370.06" cy="138.84" r="5.7" fill="url(#gb)"/>
<circle cx="1370.71" cy="143.31" r="5.7" fill="url(#gb)"/>
<circle cx="1371.38" cy="147.78" r="5.7" fill="url(#gb)"/>
<circle cx="1372.07" cy="152.24" r="5.7" fill="url(#gb)"/>
<circle cx="1372.77" cy="156.71" r="5.7" fill="url(#gb)"/>
<circle cx="1374.05" cy="162.34" r="5.7" fill="url(#gb)"/>
<circle cx="1376.3" cy="170.08" r="5.7" fill="url(#gb)"/>
<circle cx="1378.68" cy="176.7" r="5.7" fill="url(#gb)"/>
<circle cx="1381.21" cy="183.4" r="5.7" fill="url(#gb)"/>
<circle cx="1383.88" cy="188.54" r="5.7" fill="url(#gb)"/>
<circle cx="1386.69" cy="193.08" r="5.7" fill="url(#gb)"/>
<circle cx="1389.64" cy="197.62" r="5.7" fill="url(#gb)"/>
<circle cx="1392.74" cy="201.41" r="5.7" fill="url(#gb)"/>
<circle cx="1395.97" cy="204.7" r="5.7" fill="url(#gb)"/>
<circle cx="1399.35" cy="207.39" r="5.7" fill="url(#gb)"/>
<circle cx="1402.86" cy="208.92" r="5.7" fill="url(#gb)"/>
<circle cx="1406.52" cy="210.45" r="5.7" fill="url(#gb)"/>
<circle cx="1410.32" cy="211.75" r="5.7" fill="url(#gb)"/>
<circle cx="1414.26" cy="212.73" r="5.7" fill="url(#gb)"/>
<circle cx="1418.35" cy="213.71" r="5.7" fill="url(#gb)"/>
<circle cx="1422.57" cy="214.52" r="5.7" fill="url(#gb)"/>
<circle cx="1426.93" cy="214.84" r="5.7" fill="url(#gb)"/>
<circle cx="1431.44" cy="215.15" r="5.7" fill="url(#gb)"/>
<circle cx="1436.09" cy="215.47" r="5.7" fill="url(#gb)"/>
<circle cx="1440.87" cy="215.47" r="5.7" fill="url(#gb)"/>
<circle cx="1445.8" cy="215.47" r="5.7" fill="url(#gb)"/>
<circle cx="1450.88" cy="215.47" r="5.7" fill="url(#gb)"/>
<circle cx="1456.09" cy="215.34" r="5.7" fill="url(#gb)"/>
<circle cx="1461.44" cy="215.21" r="5.7" fill="url(#gb)"/>
<circle cx="1470.3" cy="214.82" r="5.7" fill="url(#gb)"/>
<circle cx="1481.88" cy="213.76" r="5.7" fill="url(#gb)"/>
<circle cx="1494.03" cy="212.56" r="5.7" fill="url(#gb)"/>
<circle cx="1506.74" cy="211.06" r="5.7" fill="url(#gb)"/>
<circle cx="1520.02" cy="209.64" r="5.7" fill="url(#gb)"/>
<circle cx="1533.86" cy="208.14" r="5.7" fill="url(#gb)"/>
<circle cx="1548.27" cy="206.44" r="5.7" fill="url(#gb)"/>
<circle cx="1563.24" cy="204.44" r="5.7" fill="url(#gb)"/>
<circle cx="1578.78" cy="202.23" r="5.7" fill="url(#gb)"/>
<circle cx="1594.88" cy="200.24" r="5.7" fill="url(#gb)"/>
<circle cx="1611.55" cy="198.32" r="5.7" fill="url(#gb)"/>
<circle cx="1628.78" cy="196.03" r="5.7" fill="url(#gb)"/>
<circle cx="1646.58" cy="194.38" r="5.7" fill="url(#gb)"/>
<circle cx="1664.94" cy="192.73" r="5.7" fill="url(#gb)"/>
</g>
<text transform="translate(1417.5,43.5) scale(1,1.0)" font-size="25">T<tspan font-size="14.5" stroke-width="0.2" dy="9.1">L</tspan></text>
<line x1="1390" y1="33.7" x2="1406" y2="33.7" stroke="#000" stroke-width="1.7" />
<path d="M1378.6,33.7 L1392.1,29.5 L1392.1,37.9 Z" fill="#000"/>
<text transform="translate(1430.3,140.7) scale(1,1.0)" font-size="25">T<tspan font-size="14.5" stroke-width="0.2" dy="8.8">SR</tspan></text>
<line x1="1437.2" y1="170" x2="1437.2" y2="197.4" stroke="#000" stroke-width="1.7" />
<path d="M1437.2,161.2 L1432.5,172 L1441.9,172 Z" fill="#000"/>
<text transform="translate(1484.9,316.5) scale(1,1.0)" font-size="29.1" text-anchor="middle">T<tspan font-size="18" dy="-15.5">2</tspan><tspan dy="15.5"> (10</tspan><tspan font-size="18" dy="-15.5">2</tspan><tspan dy="15.5"> K</tspan><tspan font-size="18" dy="-15.5">2</tspan><tspan dy="15.5">)</tspan></text>
<text transform="translate(1213.9,136.6) scale(1,1.03) rotate(-90)" font-size="28.93" text-anchor="middle">C/T</text>
<text transform="translate(1257.1,133) scale(1,1.03) rotate(-90)" font-size="28.93" text-anchor="middle">(J/mole-K<tspan font-size="17.96" dy="-15.5">2</tspan><tspan dy="15.5">)</tspan></text>
</svg></body></html>
